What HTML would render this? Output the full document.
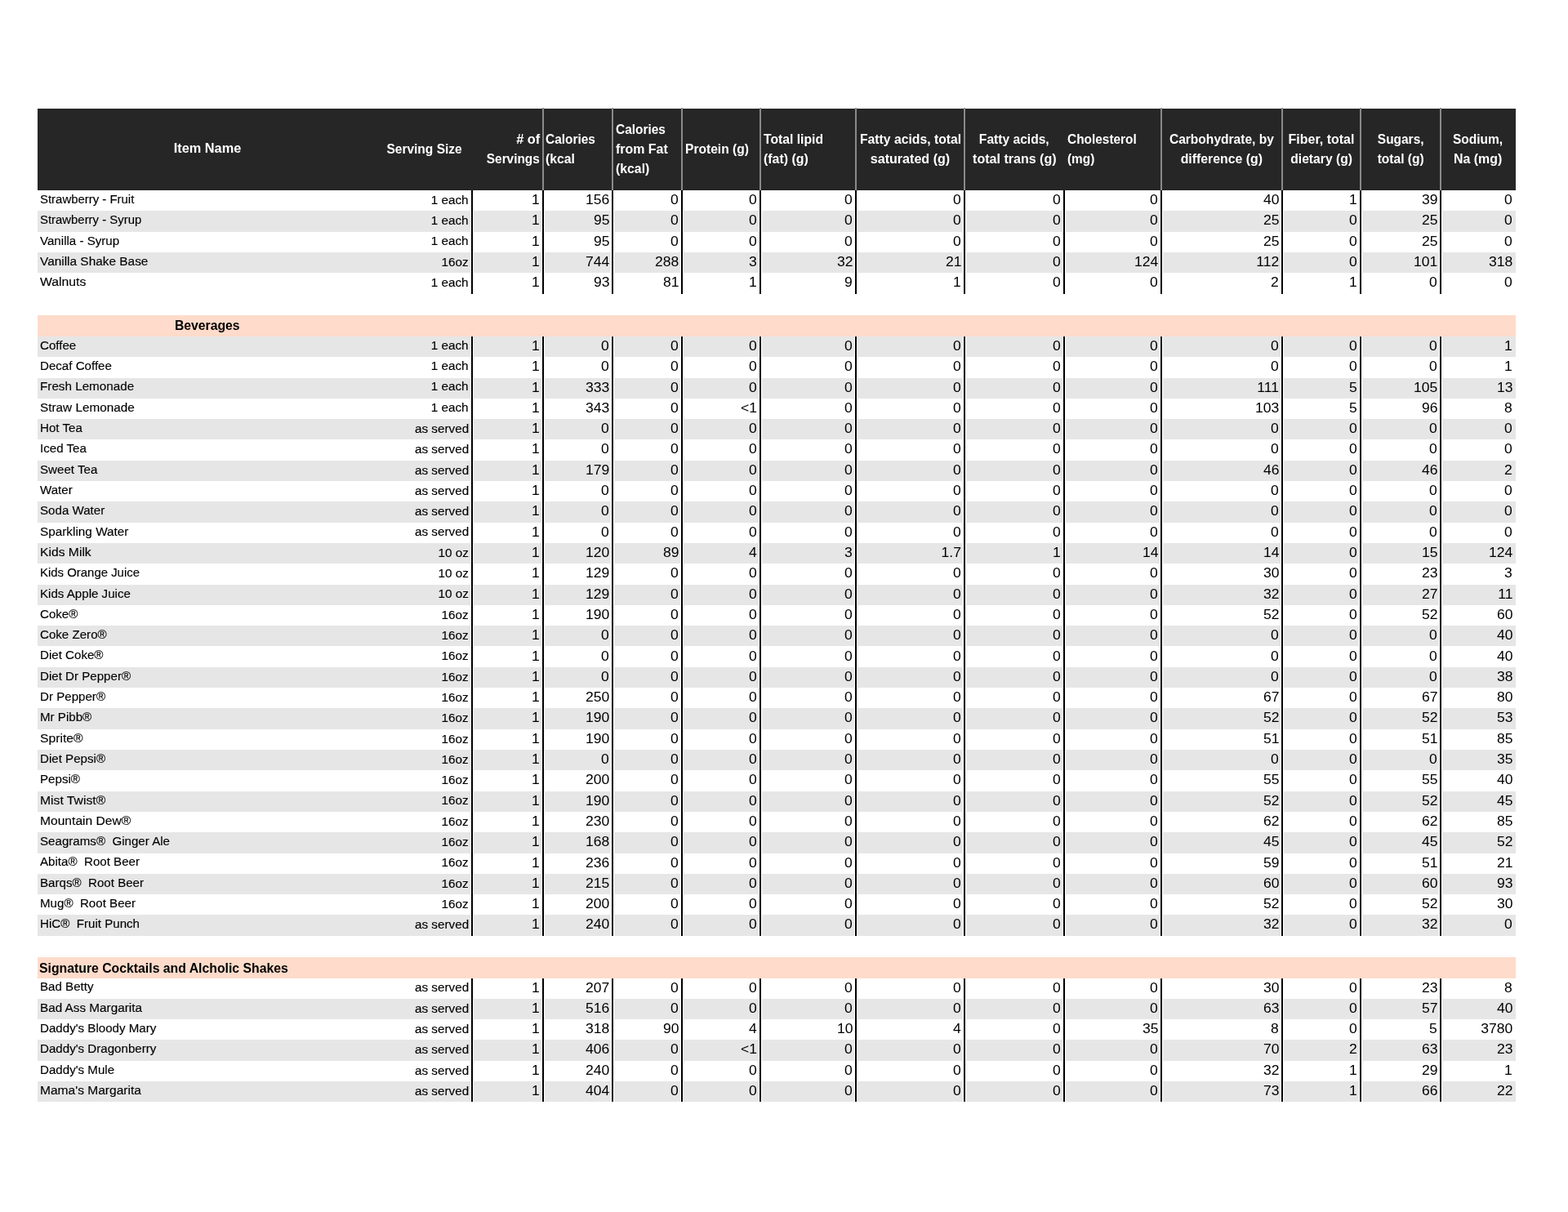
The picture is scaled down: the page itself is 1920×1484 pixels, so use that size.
<!DOCTYPE html>
<html lang="en"><head><meta charset="utf-8"><title>Nutrition Information</title>
<style>
html,body{margin:0;padding:0;background:#fff}
body{width:1920px;height:1484px;position:relative;overflow:hidden;font-family:"Liberation Sans",sans-serif;color:#000;-webkit-font-smoothing:antialiased}
.abs,.hd,.gl,.bl,.row,.row span,.hd span{position:absolute}
.hd{left:46px;top:133px;width:1810px;height:99.8px;background:#262626}
.gl{top:131.5px;height:101.2px;width:2px;background:#8a8a8a}
.bl{width:2px;background:#000;border-left:1px solid #fff;border-right:1px solid #fff}
.row{left:0;width:1920px;height:25.304px}
.row.p{height:25.8px}
.row i{position:absolute;left:46px;width:1810px;top:0;height:100%;display:block}
.g i{background:#e6e6e6}
.p i{background:#fedbca}
.row span,.hd span{white-space:pre;line-height:20px}
.row span{font-size:15.5px;top:0.93px;-webkit-text-stroke:0.15px #000}
.row .n{left:48.5px;transform-origin:0 50%;transform:scaleX(0.975)}
.row .s{transform-origin:100% 50%;transform:scaleX(0.985);top:1.83px}
.row .s.u{top:0.93px}
.row .v{-webkit-text-stroke:0;font-size:15.8px;transform-origin:100% 50%;transform:scaleX(1.11);top:2.03px}
.row .h{font-size:16.5px;font-weight:bold;color:#000;top:3.28px;-webkit-text-stroke:0}
.hd span{color:#fff;font-weight:bold;font-size:17.0px}

.c2{right:1346.2px}
.c3{right:1258.8px}
.c4{right:1173.8px}
.c5{right:1088.8px}
.c6{right:992.8px}
.c7{right:875.8px}
.c8{right:742.8px}
.c9{right:620.8px}
.c10{right:501.8px}
.c11{right:353.8px}
.c12{right:257.8px}
.c13{right:159.8px}
.c14{right:67.8px}
</style></head><body>
<div class="hd">
<span style="left:164.7px;top:39.11px;transform-origin:50% 50%;transform:scaleX(0.9595)">Item Name</span>
<span style="left:422.6px;top:40.21px;transform-origin:50% 50%;transform:scaleX(0.9129)">Serving Size</span>
<span style="right:1195.0px;top:28.31px;transform-origin:100% 50%;transform:scaleX(0.9625)"># of</span>
<span style="right:1195.0px;top:51.91px;transform-origin:100% 50%;transform:scaleX(0.9051)">Servings</span>
<span style="left:622.3px;top:28.31px;transform-origin:0 50%;transform:scaleX(0.9077)">Calories</span>
<span style="left:622.3px;top:51.91px;transform-origin:0 50%;transform:scaleX(0.9265)">(kcal</span>
<span style="left:707.7px;top:16.21px;transform-origin:0 50%;transform:scaleX(0.9062)">Calories</span>
<span style="left:707.7px;top:40.11px;transform-origin:0 50%;transform:scaleX(0.9382)">from Fat</span>
<span style="left:707.7px;top:64.11px;transform-origin:0 50%;transform:scaleX(0.9297)">(kcal)</span>
<span style="left:792.7px;top:40.21px;transform-origin:0 50%;transform:scaleX(0.9176)">Protein (g)</span>
<span style="left:889.3px;top:28.31px;transform-origin:0 50%;transform:scaleX(0.9239)">Total lipid</span>
<span style="left:889.3px;top:51.91px;transform-origin:0 50%;transform:scaleX(0.9345)">(fat) (g)</span>
<span style="left:1001.5px;top:28.31px;transform-origin:50% 50%;transform:scaleX(0.9259)">Fatty acids, total</span>
<span style="left:1017.1px;top:51.91px;transform-origin:50% 50%;transform:scaleX(0.9469)">saturated (g)</span>
<span style="left:1149.3px;top:28.31px;transform-origin:50% 50%;transform:scaleX(0.9172)">Fatty acids,</span>
<span style="left:1141.8px;top:51.91px;transform-origin:50% 50%;transform:scaleX(0.9437)">total trans (g)</span>
<span style="left:1261.2px;top:28.31px;transform-origin:0 50%;transform:scaleX(0.9066)">Cholesterol</span>
<span style="left:1261.2px;top:51.91px;transform-origin:0 50%;transform:scaleX(0.9042)">(mg)</span>
<span style="left:1379.9px;top:28.31px;transform-origin:50% 50%;transform:scaleX(0.9155)">Carbohydrate, by</span>
<span style="left:1396.2px;top:51.91px;transform-origin:50% 50%;transform:scaleX(0.9323)">difference (g)</span>
<span style="left:1528.9px;top:28.31px;transform-origin:50% 50%;transform:scaleX(0.9399)">Fiber, total</span>
<span style="left:1530.8px;top:51.91px;transform-origin:50% 50%;transform:scaleX(0.9223)">dietary (g)</span>
<span style="left:1637.5px;top:28.31px;transform-origin:50% 50%;transform:scaleX(0.9092)">Sugars,</span>
<span style="left:1637.6px;top:51.91px;transform-origin:50% 50%;transform:scaleX(0.9145)">total (g)</span>
<span style="left:1730.1px;top:28.31px;transform-origin:50% 50%;transform:scaleX(0.9126)">Sodium,</span>
<span style="left:1732.3px;top:51.91px;transform-origin:50% 50%;transform:scaleX(0.9355)">Na (mg)</span>
</div>
<div class="gl" style="left:664px"></div>
<div class="gl" style="left:749px"></div>
<div class="gl" style="left:834px"></div>
<div class="gl" style="left:930px"></div>
<div class="gl" style="left:1047px"></div>
<div class="gl" style="left:1180px"></div>
<div class="gl" style="left:1421px"></div>
<div class="gl" style="left:1569px"></div>
<div class="gl" style="left:1665px"></div>
<div class="gl" style="left:1763px"></div>
<div class="row" style="top:233.0px"><i></i><span class="n" style="transform:scaleX(0.9633)">Strawberry - Fruit</span><span class="s c2">1 each</span><span class="v c3">1</span><span class="v c4">156</span><span class="v c5">0</span><span class="v c6">0</span><span class="v c7">0</span><span class="v c8">0</span><span class="v c9">0</span><span class="v c10">0</span><span class="v c11">40</span><span class="v c12">1</span><span class="v c13">39</span><span class="v c14">0</span></div>
<div class="row g" style="top:258.3px"><i></i><span class="n" style="transform:scaleX(0.9613)">Strawberry - Syrup</span><span class="s c2">1 each</span><span class="v c3">1</span><span class="v c4">95</span><span class="v c5">0</span><span class="v c6">0</span><span class="v c7">0</span><span class="v c8">0</span><span class="v c9">0</span><span class="v c10">0</span><span class="v c11">25</span><span class="v c12">0</span><span class="v c13">25</span><span class="v c14">0</span></div>
<div class="row" style="top:283.61px"><i></i><span class="n">Vanilla - Syrup</span><span class="s c2">1 each</span><span class="v c3">1</span><span class="v c4">95</span><span class="v c5">0</span><span class="v c6">0</span><span class="v c7">0</span><span class="v c8">0</span><span class="v c9">0</span><span class="v c10">0</span><span class="v c11">25</span><span class="v c12">0</span><span class="v c13">25</span><span class="v c14">0</span></div>
<div class="row g" style="top:308.91px"><i></i><span class="n" style="transform:scaleX(0.9935)">Vanilla Shake Base</span><span class="s c2">16oz</span><span class="v c3">1</span><span class="v c4">744</span><span class="v c5">288</span><span class="v c6">3</span><span class="v c7">32</span><span class="v c8">21</span><span class="v c9">0</span><span class="v c10">124</span><span class="v c11">112</span><span class="v c12">0</span><span class="v c13">101</span><span class="v c14">318</span></div>
<div class="row" style="top:334.22px"><i></i><span class="n" style="transform:scaleX(1.0169)">Walnuts</span><span class="s c2">1 each</span><span class="v c3">1</span><span class="v c4">93</span><span class="v c5">81</span><span class="v c6">1</span><span class="v c7">9</span><span class="v c8">1</span><span class="v c9">0</span><span class="v c10">0</span><span class="v c11">2</span><span class="v c12">1</span><span class="v c13">0</span><span class="v c14">0</span></div>
<div class="row p" style="top:386.1px"><i></i><span class="h" style="left:212.2px;top:1.58px;transform:scaleX(0.954)">Beverages</span></div>
<div class="row g" style="top:411.93px"><i></i><span class="n">Coffee</span><span class="s u c2">1 each</span><span class="v c3">1</span><span class="v c4">0</span><span class="v c5">0</span><span class="v c6">0</span><span class="v c7">0</span><span class="v c8">0</span><span class="v c9">0</span><span class="v c10">0</span><span class="v c11">0</span><span class="v c12">0</span><span class="v c13">0</span><span class="v c14">1</span></div>
<div class="row" style="top:437.23px"><i></i><span class="n">Decaf Coffee</span><span class="s u c2">1 each</span><span class="v c3">1</span><span class="v c4">0</span><span class="v c5">0</span><span class="v c6">0</span><span class="v c7">0</span><span class="v c8">0</span><span class="v c9">0</span><span class="v c10">0</span><span class="v c11">0</span><span class="v c12">0</span><span class="v c13">0</span><span class="v c14">1</span></div>
<div class="row g" style="top:462.54px"><i></i><span class="n" style="transform:scaleX(0.9828)">Fresh Lemonade</span><span class="s u c2">1 each</span><span class="v c3">1</span><span class="v c4">333</span><span class="v c5">0</span><span class="v c6">0</span><span class="v c7">0</span><span class="v c8">0</span><span class="v c9">0</span><span class="v c10">0</span><span class="v c11">111</span><span class="v c12">5</span><span class="v c13">105</span><span class="v c14">13</span></div>
<div class="row" style="top:487.84px"><i></i><span class="n" style="transform:scaleX(0.9877)">Straw Lemonade</span><span class="s u c2">1 each</span><span class="v c3">1</span><span class="v c4">343</span><span class="v c5">0</span><span class="v c6">&lt;1</span><span class="v c7">0</span><span class="v c8">0</span><span class="v c9">0</span><span class="v c10">0</span><span class="v c11">103</span><span class="v c12">5</span><span class="v c13">96</span><span class="v c14">8</span></div>
<div class="row g" style="top:513.15px"><i></i><span class="n">Hot Tea</span><span class="s c2">as served</span><span class="v c3">1</span><span class="v c4">0</span><span class="v c5">0</span><span class="v c6">0</span><span class="v c7">0</span><span class="v c8">0</span><span class="v c9">0</span><span class="v c10">0</span><span class="v c11">0</span><span class="v c12">0</span><span class="v c13">0</span><span class="v c14">0</span></div>
<div class="row" style="top:538.45px"><i></i><span class="n">Iced Tea</span><span class="s c2">as served</span><span class="v c3">1</span><span class="v c4">0</span><span class="v c5">0</span><span class="v c6">0</span><span class="v c7">0</span><span class="v c8">0</span><span class="v c9">0</span><span class="v c10">0</span><span class="v c11">0</span><span class="v c12">0</span><span class="v c13">0</span><span class="v c14">0</span></div>
<div class="row g" style="top:563.75px"><i></i><span class="n">Sweet Tea</span><span class="s c2">as served</span><span class="v c3">1</span><span class="v c4">179</span><span class="v c5">0</span><span class="v c6">0</span><span class="v c7">0</span><span class="v c8">0</span><span class="v c9">0</span><span class="v c10">0</span><span class="v c11">46</span><span class="v c12">0</span><span class="v c13">46</span><span class="v c14">2</span></div>
<div class="row" style="top:589.06px"><i></i><span class="n">Water</span><span class="s c2">as served</span><span class="v c3">1</span><span class="v c4">0</span><span class="v c5">0</span><span class="v c6">0</span><span class="v c7">0</span><span class="v c8">0</span><span class="v c9">0</span><span class="v c10">0</span><span class="v c11">0</span><span class="v c12">0</span><span class="v c13">0</span><span class="v c14">0</span></div>
<div class="row g" style="top:614.36px"><i></i><span class="n">Soda Water</span><span class="s c2">as served</span><span class="v c3">1</span><span class="v c4">0</span><span class="v c5">0</span><span class="v c6">0</span><span class="v c7">0</span><span class="v c8">0</span><span class="v c9">0</span><span class="v c10">0</span><span class="v c11">0</span><span class="v c12">0</span><span class="v c13">0</span><span class="v c14">0</span></div>
<div class="row" style="top:639.67px"><i></i><span class="n" style="transform:scaleX(0.9887)">Sparkling Water</span><span class="s c2">as served</span><span class="v c3">1</span><span class="v c4">0</span><span class="v c5">0</span><span class="v c6">0</span><span class="v c7">0</span><span class="v c8">0</span><span class="v c9">0</span><span class="v c10">0</span><span class="v c11">0</span><span class="v c12">0</span><span class="v c13">0</span><span class="v c14">0</span></div>
<div class="row g" style="top:664.97px"><i></i><span class="n" style="transform:scaleX(1.0111)">Kids Milk</span><span class="s c2">10 oz</span><span class="v c3">1</span><span class="v c4">120</span><span class="v c5">89</span><span class="v c6">4</span><span class="v c7">3</span><span class="v c8">1.7</span><span class="v c9">1</span><span class="v c10">14</span><span class="v c11">14</span><span class="v c12">0</span><span class="v c13">15</span><span class="v c14">124</span></div>
<div class="row" style="top:690.27px"><i></i><span class="n" style="transform:scaleX(0.9633)">Kids Orange Juice</span><span class="s c2">10 oz</span><span class="v c3">1</span><span class="v c4">129</span><span class="v c5">0</span><span class="v c6">0</span><span class="v c7">0</span><span class="v c8">0</span><span class="v c9">0</span><span class="v c10">0</span><span class="v c11">30</span><span class="v c12">0</span><span class="v c13">23</span><span class="v c14">3</span></div>
<div class="row g" style="top:715.58px"><i></i><span class="n">Kids Apple Juice</span><span class="s c2">10 oz</span><span class="v c3">1</span><span class="v c4">129</span><span class="v c5">0</span><span class="v c6">0</span><span class="v c7">0</span><span class="v c8">0</span><span class="v c9">0</span><span class="v c10">0</span><span class="v c11">32</span><span class="v c12">0</span><span class="v c13">27</span><span class="v c14">11</span></div>
<div class="row" style="top:740.88px"><i></i><span class="n">Coke®</span><span class="s c2">16oz</span><span class="v c3">1</span><span class="v c4">190</span><span class="v c5">0</span><span class="v c6">0</span><span class="v c7">0</span><span class="v c8">0</span><span class="v c9">0</span><span class="v c10">0</span><span class="v c11">52</span><span class="v c12">0</span><span class="v c13">52</span><span class="v c14">60</span></div>
<div class="row g" style="top:766.19px"><i></i><span class="n">Coke Zero®</span><span class="s c2">16oz</span><span class="v c3">1</span><span class="v c4">0</span><span class="v c5">0</span><span class="v c6">0</span><span class="v c7">0</span><span class="v c8">0</span><span class="v c9">0</span><span class="v c10">0</span><span class="v c11">0</span><span class="v c12">0</span><span class="v c13">0</span><span class="v c14">40</span></div>
<div class="row" style="top:791.49px"><i></i><span class="n">Diet Coke®</span><span class="s c2">16oz</span><span class="v c3">1</span><span class="v c4">0</span><span class="v c5">0</span><span class="v c6">0</span><span class="v c7">0</span><span class="v c8">0</span><span class="v c9">0</span><span class="v c10">0</span><span class="v c11">0</span><span class="v c12">0</span><span class="v c13">0</span><span class="v c14">40</span></div>
<div class="row g" style="top:816.79px"><i></i><span class="n">Diet Dr Pepper®</span><span class="s c2">16oz</span><span class="v c3">1</span><span class="v c4">0</span><span class="v c5">0</span><span class="v c6">0</span><span class="v c7">0</span><span class="v c8">0</span><span class="v c9">0</span><span class="v c10">0</span><span class="v c11">0</span><span class="v c12">0</span><span class="v c13">0</span><span class="v c14">38</span></div>
<div class="row" style="top:842.1px"><i></i><span class="n">Dr Pepper®</span><span class="s c2">16oz</span><span class="v c3">1</span><span class="v c4">250</span><span class="v c5">0</span><span class="v c6">0</span><span class="v c7">0</span><span class="v c8">0</span><span class="v c9">0</span><span class="v c10">0</span><span class="v c11">67</span><span class="v c12">0</span><span class="v c13">67</span><span class="v c14">80</span></div>
<div class="row g" style="top:867.4px"><i></i><span class="n">Mr Pibb®</span><span class="s c2">16oz</span><span class="v c3">1</span><span class="v c4">190</span><span class="v c5">0</span><span class="v c6">0</span><span class="v c7">0</span><span class="v c8">0</span><span class="v c9">0</span><span class="v c10">0</span><span class="v c11">52</span><span class="v c12">0</span><span class="v c13">52</span><span class="v c14">53</span></div>
<div class="row" style="top:892.71px"><i></i><span class="n" style="transform:scaleX(1.014)">Sprite®</span><span class="s c2">16oz</span><span class="v c3">1</span><span class="v c4">190</span><span class="v c5">0</span><span class="v c6">0</span><span class="v c7">0</span><span class="v c8">0</span><span class="v c9">0</span><span class="v c10">0</span><span class="v c11">51</span><span class="v c12">0</span><span class="v c13">51</span><span class="v c14">85</span></div>
<div class="row g" style="top:918.01px"><i></i><span class="n">Diet Pepsi®</span><span class="s c2">16oz</span><span class="v c3">1</span><span class="v c4">0</span><span class="v c5">0</span><span class="v c6">0</span><span class="v c7">0</span><span class="v c8">0</span><span class="v c9">0</span><span class="v c10">0</span><span class="v c11">0</span><span class="v c12">0</span><span class="v c13">0</span><span class="v c14">35</span></div>
<div class="row" style="top:943.31px"><i></i><span class="n">Pepsi®</span><span class="s c2">16oz</span><span class="v c3">1</span><span class="v c4">200</span><span class="v c5">0</span><span class="v c6">0</span><span class="v c7">0</span><span class="v c8">0</span><span class="v c9">0</span><span class="v c10">0</span><span class="v c11">55</span><span class="v c12">0</span><span class="v c13">55</span><span class="v c14">40</span></div>
<div class="row g" style="top:968.62px"><i></i><span class="n" style="transform:scaleX(1.013)">Mist Twist®</span><span class="s c2">16oz</span><span class="v c3">1</span><span class="v c4">190</span><span class="v c5">0</span><span class="v c6">0</span><span class="v c7">0</span><span class="v c8">0</span><span class="v c9">0</span><span class="v c10">0</span><span class="v c11">52</span><span class="v c12">0</span><span class="v c13">52</span><span class="v c14">45</span></div>
<div class="row" style="top:993.92px"><i></i><span class="n" style="transform:scaleX(1.0072)">Mountain Dew®</span><span class="s c2">16oz</span><span class="v c3">1</span><span class="v c4">230</span><span class="v c5">0</span><span class="v c6">0</span><span class="v c7">0</span><span class="v c8">0</span><span class="v c9">0</span><span class="v c10">0</span><span class="v c11">62</span><span class="v c12">0</span><span class="v c13">62</span><span class="v c14">85</span></div>
<div class="row g" style="top:1019.23px"><i></i><span class="n">Seagrams®  Ginger Ale</span><span class="s c2">16oz</span><span class="v c3">1</span><span class="v c4">168</span><span class="v c5">0</span><span class="v c6">0</span><span class="v c7">0</span><span class="v c8">0</span><span class="v c9">0</span><span class="v c10">0</span><span class="v c11">45</span><span class="v c12">0</span><span class="v c13">45</span><span class="v c14">52</span></div>
<div class="row" style="top:1044.53px"><i></i><span class="n">Abita®  Root Beer</span><span class="s c2">16oz</span><span class="v c3">1</span><span class="v c4">236</span><span class="v c5">0</span><span class="v c6">0</span><span class="v c7">0</span><span class="v c8">0</span><span class="v c9">0</span><span class="v c10">0</span><span class="v c11">59</span><span class="v c12">0</span><span class="v c13">51</span><span class="v c14">21</span></div>
<div class="row g" style="top:1069.83px"><i></i><span class="n">Barqs®  Root Beer</span><span class="s c2">16oz</span><span class="v c3">1</span><span class="v c4">215</span><span class="v c5">0</span><span class="v c6">0</span><span class="v c7">0</span><span class="v c8">0</span><span class="v c9">0</span><span class="v c10">0</span><span class="v c11">60</span><span class="v c12">0</span><span class="v c13">60</span><span class="v c14">93</span></div>
<div class="row" style="top:1095.14px"><i></i><span class="n">Mug®  Root Beer</span><span class="s c2">16oz</span><span class="v c3">1</span><span class="v c4">200</span><span class="v c5">0</span><span class="v c6">0</span><span class="v c7">0</span><span class="v c8">0</span><span class="v c9">0</span><span class="v c10">0</span><span class="v c11">52</span><span class="v c12">0</span><span class="v c13">52</span><span class="v c14">30</span></div>
<div class="row g" style="top:1120.44px"><i></i><span class="n">HiC®  Fruit Punch</span><span class="s c2">as served</span><span class="v c3">1</span><span class="v c4">240</span><span class="v c5">0</span><span class="v c6">0</span><span class="v c7">0</span><span class="v c8">0</span><span class="v c9">0</span><span class="v c10">0</span><span class="v c11">32</span><span class="v c12">0</span><span class="v c13">32</span><span class="v c14">0</span></div>
<div class="row p" style="top:1171.9px"><i></i><span class="h" style="left:47.9px;transform-origin:0 50%;transform:scaleX(0.957)">Signature Cocktails and Alcholic Shakes</span></div>
<div class="row" style="top:1197.55px"><i></i><span class="n">Bad Betty</span><span class="s c2">as served</span><span class="v c3">1</span><span class="v c4">207</span><span class="v c5">0</span><span class="v c6">0</span><span class="v c7">0</span><span class="v c8">0</span><span class="v c9">0</span><span class="v c10">0</span><span class="v c11">30</span><span class="v c12">0</span><span class="v c13">23</span><span class="v c14">8</span></div>
<div class="row g" style="top:1222.85px"><i></i><span class="n" style="transform:scaleX(0.9867)">Bad Ass Margarita</span><span class="s c2">as served</span><span class="v c3">1</span><span class="v c4">516</span><span class="v c5">0</span><span class="v c6">0</span><span class="v c7">0</span><span class="v c8">0</span><span class="v c9">0</span><span class="v c10">0</span><span class="v c11">63</span><span class="v c12">0</span><span class="v c13">57</span><span class="v c14">40</span></div>
<div class="row" style="top:1248.16px"><i></i><span class="n">Daddy&#x27;s Bloody Mary</span><span class="s c2">as served</span><span class="v c3">1</span><span class="v c4">318</span><span class="v c5">90</span><span class="v c6">4</span><span class="v c7">10</span><span class="v c8">4</span><span class="v c9">0</span><span class="v c10">35</span><span class="v c11">8</span><span class="v c12">0</span><span class="v c13">5</span><span class="v c14">3780</span></div>
<div class="row g" style="top:1273.46px"><i></i><span class="n">Daddy&#x27;s Dragonberry</span><span class="s c2">as served</span><span class="v c3">1</span><span class="v c4">406</span><span class="v c5">0</span><span class="v c6">&lt;1</span><span class="v c7">0</span><span class="v c8">0</span><span class="v c9">0</span><span class="v c10">0</span><span class="v c11">70</span><span class="v c12">2</span><span class="v c13">63</span><span class="v c14">23</span></div>
<div class="row" style="top:1298.77px"><i></i><span class="n">Daddy&#x27;s Mule</span><span class="s c2">as served</span><span class="v c3">1</span><span class="v c4">240</span><span class="v c5">0</span><span class="v c6">0</span><span class="v c7">0</span><span class="v c8">0</span><span class="v c9">0</span><span class="v c10">0</span><span class="v c11">32</span><span class="v c12">1</span><span class="v c13">29</span><span class="v c14">1</span></div>
<div class="row g" style="top:1324.07px"><i></i><span class="n" style="transform:scaleX(1.0033)">Mama&#x27;s Margarita</span><span class="s c2">as served</span><span class="v c3">1</span><span class="v c4">404</span><span class="v c5">0</span><span class="v c6">0</span><span class="v c7">0</span><span class="v c8">0</span><span class="v c9">0</span><span class="v c10">0</span><span class="v c11">73</span><span class="v c12">1</span><span class="v c13">66</span><span class="v c14">22</span></div>
<div class="bl" style="left:576px;top:233.0px;height:126.92px"></div>
<div class="bl" style="left:663px;top:233.0px;height:126.92px"></div>
<div class="bl" style="left:748px;top:233.0px;height:126.92px"></div>
<div class="bl" style="left:833px;top:233.0px;height:126.92px"></div>
<div class="bl" style="left:929px;top:233.0px;height:126.92px"></div>
<div class="bl" style="left:1046px;top:233.0px;height:126.92px"></div>
<div class="bl" style="left:1179px;top:233.0px;height:126.92px"></div>
<div class="bl" style="left:1301px;top:233.0px;height:126.92px"></div>
<div class="bl" style="left:1420px;top:233.0px;height:126.92px"></div>
<div class="bl" style="left:1568px;top:233.0px;height:126.92px"></div>
<div class="bl" style="left:1664px;top:233.0px;height:126.92px"></div>
<div class="bl" style="left:1762px;top:233.0px;height:126.92px"></div>
<div class="bl" style="left:576px;top:411.93px;height:733.82px"></div>
<div class="bl" style="left:663px;top:411.93px;height:733.82px"></div>
<div class="bl" style="left:748px;top:411.93px;height:733.82px"></div>
<div class="bl" style="left:833px;top:411.93px;height:733.82px"></div>
<div class="bl" style="left:929px;top:411.93px;height:733.82px"></div>
<div class="bl" style="left:1046px;top:411.93px;height:733.82px"></div>
<div class="bl" style="left:1179px;top:411.93px;height:733.82px"></div>
<div class="bl" style="left:1301px;top:411.93px;height:733.82px"></div>
<div class="bl" style="left:1420px;top:411.93px;height:733.82px"></div>
<div class="bl" style="left:1568px;top:411.93px;height:733.82px"></div>
<div class="bl" style="left:1664px;top:411.93px;height:733.82px"></div>
<div class="bl" style="left:1762px;top:411.93px;height:733.82px"></div>
<div class="bl" style="left:576px;top:1197.55px;height:151.82px"></div>
<div class="bl" style="left:663px;top:1197.55px;height:151.82px"></div>
<div class="bl" style="left:748px;top:1197.55px;height:151.82px"></div>
<div class="bl" style="left:833px;top:1197.55px;height:151.82px"></div>
<div class="bl" style="left:929px;top:1197.55px;height:151.82px"></div>
<div class="bl" style="left:1046px;top:1197.55px;height:151.82px"></div>
<div class="bl" style="left:1179px;top:1197.55px;height:151.82px"></div>
<div class="bl" style="left:1301px;top:1197.55px;height:151.82px"></div>
<div class="bl" style="left:1420px;top:1197.55px;height:151.82px"></div>
<div class="bl" style="left:1568px;top:1197.55px;height:151.82px"></div>
<div class="bl" style="left:1664px;top:1197.55px;height:151.82px"></div>
<div class="bl" style="left:1762px;top:1197.55px;height:151.82px"></div>
</body></html>
